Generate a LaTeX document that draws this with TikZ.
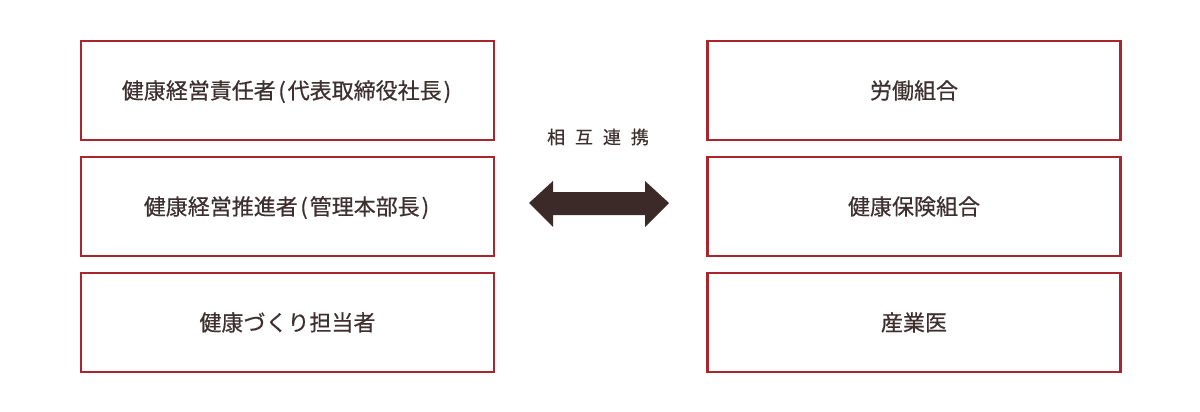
\documentclass[tikz,border=0pt]{standalone}
\usepackage{fontspec}
\setmainfont{Noto Sans CJK JP}[BoldFont={Noto Sans CJK JP},BoldFeatures={FakeBold=0.5}]
\definecolor{boxred}{RGB}{168,38,44}
\definecolor{txt}{RGB}{62,48,48}
\definecolor{arr}{RGB}{60,42,40}
\newcommand{\lp}{\kern2.5pt(\kern2pt}
\newcommand{\rp}{\kern2pt)\kern2pt}
\begin{document}
\begin{tikzpicture}[x=1pt,y=-1pt,
  rolebox/.style={draw=boxred,line width=2.6pt,minimum width=413pt,minimum height=99pt,inner sep=0pt,text=txt,font=\fontsize{22}{24}\bfseries,text depth=2pt}]
\useasboundingbox (0,0) rectangle (1200,412);
\fill[white] (0,0) rectangle (1200,412);
\node[rolebox] (l1) at (287.5,90.5) {健康経営責任者\lp 代表取締役社長\rp};
\node[rolebox] (l2) at (287.5,206.5) {健康経営推進者\lp 管理本部長\rp};
\node[rolebox] (l3) at (287.5,322.5) {健康づくり担当者};
\node[rolebox] (r1) at (914,90.5) {労働組合};
\node[rolebox] (r2) at (914,206.5) {健康保険組合};
\node[rolebox] (r3) at (914,322.5) {産業医};
\node[text=txt,font=\fontsize{18}{20}\bfseries] (lab) at (598,137) {相\hspace{0.55em}互\hspace{0.55em}連\hspace{0.55em}携};
\fill[arr] (529,203) -- (553,181) -- (553,192) -- (645,192) -- (645,181) -- (669,203) -- (645,227) -- (645,215) -- (553,215) -- (553,227) -- cycle;
\end{tikzpicture}
\end{document}
